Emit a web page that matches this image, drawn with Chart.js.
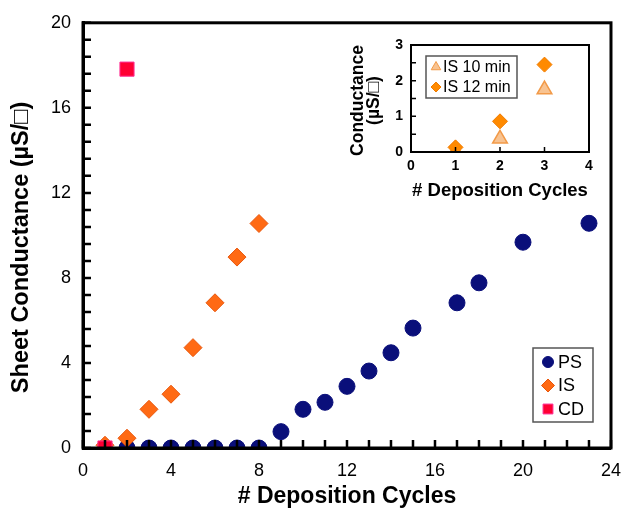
<!DOCTYPE html>
<html>
<head>
<meta charset="utf-8">
<script src="https://cdn.jsdelivr.net/npm/chart.js@4.4.1/dist/chart.umd.min.js"></script>
<style>
    html, body { margin: 0; padding: 0; background: #fff; }
    #wrap { position: relative; width: 633px; height: 510px; }
    #mainChart { position: absolute; left: 0; top: 0; }
    #insetChart { position: absolute; left: 330px; top: 25px; }
</style>
</head>
<body>
<div id="wrap">
    <canvas id="mainChart" width="633" height="510"></canvas>
    <canvas id="insetChart" width="290" height="180"></canvas>
</div>
<script>
(function () {
    "use strict";

    // main plot
    var psCycles = [2, 3, 4, 5, 6, 7, 8, 9, 10, 11, 12, 13, 14, 15, 17, 18, 20, 23];
    var psValues = [0, 0, 0, 0, 0, 0, 0, 0.77, 1.82, 2.15, 2.9, 3.62, 4.48, 5.64, 6.83, 7.77, 9.68, 10.57];
    var isCycles = [1, 2, 3, 4, 5, 6, 7, 8];
    var isValues = [0.13, 0.46, 1.82, 2.53, 4.72, 6.83, 8.98, 10.56];
    var cdCycles = [1, 2];
    var cdValues = [0, 17.82];

    // inset
    var insetCycles = [1, 2, 3];
    var is10Values = [0.02, 0.37, 1.75];
    var is12Values = [0.13, 0.86, 2.45];

    var FONT = "'Liberation Sans', Arial, sans-serif";

    function pts(xs, ys) {
        return xs.map(function (x, i) { return { x: x, y: ys[i] }; });
    }

    // box around the plot area plus inward tick marks
    var framePlugin = {
        id: 'frame',
        afterDraw: function (chart, args, opts) {
            var ctx = chart.ctx, a = chart.chartArea;
            var xs = chart.scales.x, ys = chart.scales.y;
            ctx.save();
            ctx.strokeStyle = '#000';
            ctx.lineWidth = opts.tickWidth;
            ctx.beginPath();
            xs.ticks.forEach(function (t) {
                var px = xs.getPixelForValue(t.value);
                ctx.moveTo(px, a.bottom);
                ctx.lineTo(px, a.bottom - opts.tickLen);
            });
            ys.ticks.forEach(function (t) {
                var py = ys.getPixelForValue(t.value);
                ctx.moveTo(a.left, py);
                ctx.lineTo(a.left + opts.tickLen, py);
            });
            ctx.stroke();
            ctx.lineWidth = opts.lineWidth;
            ctx.strokeRect(a.left, a.top, a.right - a.left, a.bottom - a.top);

            // rotated y title, placed freely (no width squeezing)
            if (opts.yTitle) {
                var t = opts.yTitle;
                ctx.font = t.font;
                ctx.fillStyle = '#000';
                ctx.textAlign = 'center';
                ctx.textBaseline = 'middle';
                ctx.translate(t.x, (a.top + a.bottom) / 2 + (t.dy || 0));
                ctx.rotate(-Math.PI / 2);
                t.lines.forEach(function (line, i) {
                    ctx.fillText(line, 0, i * t.lineGap);
                });
            }
            ctx.restore();
        }
    };

    // legend drawn as a box inside the plot
    var boxLegendPlugin = {
        id: 'boxLegend',
        afterDraw: function (chart, args, o) {
            var ctx = chart.ctx;
            ctx.save();
            ctx.fillStyle = '#fff';
            ctx.fillRect(o.x, o.y, o.w, o.h);
            ctx.strokeStyle = '#555';
            ctx.lineWidth = 1.5;
            ctx.strokeRect(o.x, o.y, o.w, o.h);
            ctx.font = o.font;
            ctx.textBaseline = 'middle';
            ctx.textAlign = 'left';
            o.items.forEach(function (it, i) {
                var ds = chart.data.datasets[it.dataset];
                var cy = o.y + o.firstRow + i * o.rowGap;
                ctx.fillStyle = ds.backgroundColor;
                ctx.strokeStyle = ds.borderColor;
                ctx.lineWidth = 1;
                Chart.helpers.drawPoint(ctx, { pointStyle: ds.pointStyle, radius: it.radius, borderWidth: 1 }, o.x + o.markX, cy);
                ctx.fillStyle = '#000';
                ctx.fillText(ds.label, o.x + o.textX, cy + 1);
            });
            ctx.restore();
        }
    };

    var mainData = {
        datasets: [
            {
                label: "PS",
                data: pts(psCycles, psValues),
                pointStyle: 'circle',
                pointRadius: 8,
                backgroundColor: "#0a0f7a",
                borderColor: "#0a0f7a",
                borderWidth: 1,
                order: 2
            },
            {
                label: "IS",
                data: pts(isCycles, isValues),
                pointStyle: 'rectRot',
                pointRadius: 9,
                backgroundColor: "#ff6a14",
                borderColor: "#e8560c",
                borderWidth: 1,
                order: 1
            },
            {
                label: "CD",
                data: pts(cdCycles, cdValues),
                pointStyle: 'rect',
                pointRadius: 10,
                backgroundColor: "#ff0033",
                borderColor: "#ff3399",
                borderWidth: 1,
                order: 0
            }
        ]
    };

    var mainOptions = {
        responsive: false,
        animation: false,
        layout: { padding: { left: 0, top: 20, right: 12, bottom: 0 } },
        plugins: {
            legend: { display: false },
            tooltip: { enabled: false },
            frame: {
                lineWidth: 3, tickWidth: 2.5, tickLen: 8,
                yTitle: { lines: ['Sheet Conductance (µS/□)'], x: 22, dy: 12, lineGap: 0, font: "bold 23.5px " + FONT }
            },
            boxLegend: {
                x: 533, y: 348, w: 60, h: 74,
                firstRow: 14, rowGap: 23.5, markX: 15, textX: 25,
                font: "18px " + FONT,
                items: [{ dataset: 0, radius: 5.5 }, { dataset: 1, radius: 6.5 }, { dataset: 2, radius: 7 }]
            }
        },
        scales: {
            x: {
                type: 'linear',
                min: 0,
                max: 24,
                afterFit: function (s) { s.height = 62; },
                grid: { display: false, drawTicks: false },
                border: { display: true, color: '#000', width: 3 },
                ticks: {
                    stepSize: 1,
                    padding: 12,
                    color: '#000',
                    font: { family: FONT, size: 18 },
                    maxRotation: 0,
                    autoSkip: false,
                    callback: function (v) { return v % 4 === 0 ? v : ''; }
                },
                title: {
                    display: true,
                    text: '# Deposition Cycles',
                    color: '#000',
                    font: { family: FONT, size: 23, weight: 'bold', lineHeight: 1.2 },
                    padding: { top: 0, bottom: 0 }
                }
            },
            y: {
                type: 'linear',
                min: 0,
                max: 20,
                afterFit: function (s) { s.width = 83; },
                grid: { display: false, drawTicks: false },
                border: { display: true, color: '#000', width: 3 },
                ticks: {
                    stepSize: 0.8,
                    padding: 12,
                    color: '#000',
                    font: { family: FONT, size: 18 },
                    autoSkip: false,
                    callback: function (v) {
                        var q = v / 4;
                        return Math.abs(q - Math.round(q)) < 1e-6 ? Math.round(v) : '';
                    }
                },
                title: { display: false }
            }
        }
    };

    new Chart(document.getElementById("mainChart").getContext("2d"), {
        type: 'scatter',
        data: mainData,
        options: mainOptions,
        plugins: [framePlugin, boxLegendPlugin]
    });

    var insetData = {
        datasets: [
            {
                label: "IS 10 min",
                data: pts(insetCycles, is10Values),
                pointStyle: 'triangle',
                pointRadius: 8.5,
                backgroundColor: "#f8c391",
                borderColor: "#f29a48",
                borderWidth: 1.5,
                order: 1
            },
            {
                label: "IS 12 min",
                data: pts(insetCycles, is12Values),
                pointStyle: 'rectRot',
                pointRadius: 7.5,
                backgroundColor: "#ff8a00",
                borderColor: "#f07c00",
                borderWidth: 1,
                order: 0
            }
        ]
    };

    var insetOptions = {
        responsive: false,
        animation: false,
        layout: { padding: { left: 0, top: 20, right: 31, bottom: 0 } },
        plugins: {
            legend: { display: false },
            tooltip: { enabled: false },
            frame: {
                lineWidth: 2, tickWidth: 1.5, tickLen: 5,
                yTitle: { lines: ['Conductance', '(µS/□)'], x: 28, dy: 2, lineGap: 16, font: "bold 17.5px " + FONT }
            },
            boxLegend: {
                x: 96, y: 31, w: 91, h: 42,
                firstRow: 11, rowGap: 20, markX: 10, textX: 17,
                font: "16px " + FONT,
                items: [{ dataset: 0, radius: 5.5 }, { dataset: 1, radius: 5 }]
            }
        },
        scales: {
            x: {
                type: 'linear',
                min: 0,
                max: 4,
                afterFit: function (s) { s.height = 53; },
                grid: { display: false, drawTicks: false },
                border: { display: true, color: '#000', width: 2 },
                ticks: {
                    stepSize: 1,
                    padding: 6,
                    color: '#000',
                    font: { family: FONT, size: 14, weight: 'bold' },
                    maxRotation: 0
                },
                title: {
                    display: true,
                    text: '# Deposition Cycles',
                    color: '#000',
                    font: { family: FONT, size: 18.5, weight: 'bold', lineHeight: 1.2 },
                    padding: { top: 0, bottom: 3 }
                }
            },
            y: {
                type: 'linear',
                min: 0,
                max: 3,
                afterFit: function (s) { s.width = 81; },
                grid: { display: false, drawTicks: false },
                border: { display: true, color: '#000', width: 2 },
                ticks: {
                    stepSize: 0.5,
                    padding: 8,
                    color: '#000',
                    font: { family: FONT, size: 14, weight: 'bold' },
                    autoSkip: false,
                    callback: function (v) { return v % 1 === 0 ? v : ''; }
                },
                title: { display: false }
            }
        }
    };

    new Chart(document.getElementById("insetChart").getContext("2d"), {
        type: 'scatter',
        data: insetData,
        options: insetOptions,
        plugins: [framePlugin, boxLegendPlugin]
    });

})();
</script>
</body>
</html>
